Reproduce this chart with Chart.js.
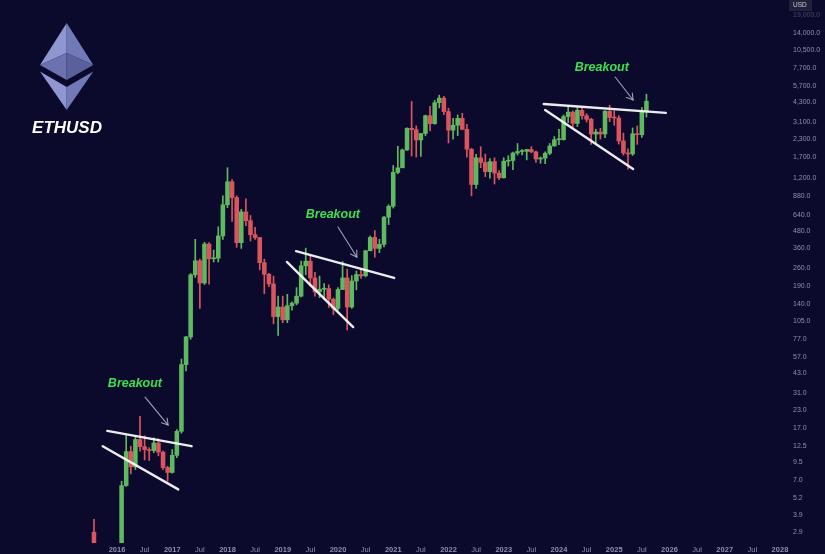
<!DOCTYPE html>
<html>
<head>
<meta charset="utf-8">
<script src="https://cdn.jsdelivr.net/npm/chart.js@4.4.1/dist/chart.umd.min.js"></script>
<style>
  html, body { margin: 0; padding: 0; background: #0b0a2c; overflow: hidden; }
  canvas { display: block; }
</style>
</head>
<body>
<canvas id="chart" width="825" height="554"></canvas>
<script>
// ETH/USD monthly candles, first entry = August 2015.
// Months between Sep 2015 and Jan 2016 trade below the visible price range.
const firstMonth = '2015-08';

const open = [
  2.90, null, null, null, null,
  null, 2.20, 6.40, 11.4, 8.8, 14.0, 12.4, 11.8, 11.6, 13.2, 11.3, 8.7,
  8.0, 10.7, 16.1, 50.0, 80.0, 230, 292, 200, 388, 302, 305, 445,
  756, 1118, 854, 397, 670, 577, 455, 433, 283, 232, 197, 113,
  133, 107, 136, 142, 160, 268, 290, 218, 172, 180, 182, 152,
  130, 179, 218, 133, 207, 231, 226, 346, 434, 360, 386, 612,
  737, 1312, 1416, 1918, 2773, 2707, 2274, 2536, 3434, 3001, 4288, 4631,
  3683, 2688, 2920, 3282, 2727, 1942, 1067, 1679, 1553, 1328, 1572, 1295,
  1196, 1585, 1605, 1822, 1870, 1874, 1934, 1857, 1645, 1671, 1815, 2052,
  2282, 2283, 3384, 3647, 3014, 3763, 3433, 3232, 2513, 2603, 2518, 3707,
  3332, 3300, 2237, 1822, 1793, 2528, 2486, 3697
];
const high = [
  3.60, null, null, null, null,
  null, 6.9, 15.0, 12.5, 14.6, 20.8, 14.9, 12.2, 14.4, 14.2, 11.5, 8.9,
  11.8, 16.6, 55, 81, 235, 420, 300, 400, 398, 350, 520, 880,
  1420, 1160, 880, 700, 838, 630, 515, 435, 300, 236, 225, 160,
  160, 165, 145, 185, 290, 362, 322, 240, 225, 198, 194, 155,
  185, 288, 253, 227, 245, 256, 349, 445, 488, 420, 622, 755,
  1475, 2040, 1950, 2800, 4380, 2890, 2550, 3470, 4030, 4460, 4870, 4780,
  3900, 3280, 3480, 3580, 2960, 1970, 1780, 2030, 1790, 1660, 1680, 1350,
  1680, 1740, 1850, 2140, 1930, 1930, 2030, 1880, 1700, 1860, 2140, 2410,
  2720, 3480, 4090, 3730, 3980, 3890, 3560, 3290, 2730, 2770, 3740, 4107,
  3740, 3440, 2550, 1960, 2790, 2880, 3940, 4950
];
const low = [
  0.42, null, null, null, null,
  null, 2.1, 6.3, 7.8, 8.4, 11.5, 9.9, 9.8, 11.2, 10.6, 8.4, 6.9,
  7.9, 10.3, 15.6, 45, 77, 220, 130, 195, 196, 286, 286, 420,
  720, 570, 367, 360, 530, 408, 420, 250, 167, 188, 100, 82,
  102, 102, 126, 138, 158, 230, 190, 160, 156, 152, 132, 117,
  126, 179, 90, 130, 178, 216, 222, 346, 310, 335, 370, 540,
  715, 1280, 1540, 1900, 1730, 1700, 1720, 2440, 2650, 2970, 3920, 3500,
  2160, 2300, 2450, 2700, 1700, 880, 1000, 1420, 1220, 1190, 1075, 1160,
  1190, 1460, 1370, 1760, 1760, 1620, 1830, 1550, 1530, 1520, 1770, 2050,
  2100, 2270, 3050, 2810, 2860, 3240, 3080, 2110, 2150, 2310, 2360, 3100,
  2920, 2120, 1760, 1385, 1750, 2110, 2370, 3355
];
const close = [
  1.35, null, null, null, null,
  null, 6.40, 11.4, 8.8, 14.0, 12.4, 11.8, 11.6, 13.2, 11.3, 8.7, 8.0,
  10.7, 16.1, 50.0, 80.0, 230, 292, 200, 388, 302, 305, 445, 756,
  1118, 854, 397, 670, 577, 455, 433, 283, 232, 197, 113, 133,
  107, 136, 142, 160, 268, 290, 218, 172, 180, 182, 152, 130,
  179, 218, 133, 207, 231, 226, 346, 434, 360, 386, 612, 737,
  1312, 1416, 1918, 2773, 2707, 2274, 2536, 3434, 3001, 4288, 4631, 3683,
  2688, 2920, 3282, 2727, 1942, 1067, 1679, 1553, 1328, 1572, 1295, 1196,
  1585, 1605, 1822, 1870, 1874, 1934, 1857, 1645, 1671, 1815, 2052, 2282,
  2283, 3384, 3647, 3014, 3763, 3433, 3232, 2513, 2603, 2518, 3707, 3332,
  3300, 2237, 1822, 1793, 2528, 2486, 3697, 4391
];

// Price axis labels (USD)
const priceTicks = [19000, 14000, 10500, 7700, 5700, 4300, 3100, 2300, 1700, 1200,
  880, 640, 480, 360, 260, 190, 140, 105, 77, 57, 43, 31, 23, 17, 12.5, 9.5, 7.0, 5.2, 3.9, 2.9];

// Time axis: months counted from January 2016, a label every six months
const timeTicks = [0, 6, 12, 18, 24, 30, 36, 42, 48, 54, 60, 66, 72, 78, 84, 90, 96, 102, 108, 114, 120, 126, 132, 138, 144];
const baseYear = 2016;

// Trendlines of the three wedges, as [month, price] pairs
const trendLines = [
  [[-2.1, 16.2], [16.2, 12.5]],
  [[-3.1, 12.5], [13.3, 6.0]],
  [[38.9, 344], [60.2, 218]],
  [[36.9, 286], [51.3, 94.6]],
  [[92.7, 4190], [119.2, 3600]],
  [[93.0, 3785], [112.1, 1387]]
];
// "Breakout" callouts: label anchor and arrow from -> to
const callouts = [
  { label: [3.9, 36],   from: [6.1, 28.8],   to: [11.1, 17.9] },
  { label: [46.9, 635], from: [48.0, 518],   to: [52.1, 311] },
  { label: [105.3, 7850], from: [108.2, 6630], to: [112.1, 4485] }
];

const GREEN = '#5fb961';
const RED = '#da555f';
const TEXT = '#8e91aa';
const FONT = '"Liberation Sans", Arial, sans-serif';

const [startY, startM] = firstMonth.split('-').map(Number);
const monthOffset = (startY - baseYear) * 12 + (startM - 1);

const bodies = [];
const wicks = [];
open.forEach((o, i) => {
  if (o == null) return;
  const x = monthOffset + i;
  const up = close[i] >= o;
  bodies.push({ x, y: [o, close[i]], up });
  wicks.push({ x, y: [low[i], high[i]], up });
});

const candleColor = ctx => (ctx.raw && ctx.raw.up ? GREEN : RED);

const fmtPrice = v => Number(v).toLocaleString('en-US', { minimumFractionDigits: 1, maximumFractionDigits: 1 });

const overlay = {
  id: 'overlay',
  beforeDraw(chart) {
    const c = chart.ctx;
    c.save();
    c.fillStyle = '#0b0a2c';
    c.fillRect(0, 0, chart.width, chart.height);
    c.restore();
  },
  afterDatasetsDraw(chart) {
    const c = chart.ctx;
    const xs = chart.scales.x, ys = chart.scales.y;
    const P = p => [xs.getPixelForValue(p[0]), ys.getPixelForValue(p[1])];
    c.save();
    // wedge boundaries
    c.strokeStyle = 'rgba(255,255,255,0.92)';
    c.lineWidth = 2.4;
    c.lineCap = 'round';
    trendLines.forEach(([a, b]) => {
      const [x1, y1] = P(a), [x2, y2] = P(b);
      c.beginPath(); c.moveTo(x1, y1); c.lineTo(x2, y2); c.stroke();
    });
    // breakout arrows and labels
    callouts.forEach(co => {
      const [x1, y1] = P(co.from), [x2, y2] = P(co.to);
      c.strokeStyle = 'rgba(185,188,205,0.85)';
      c.lineWidth = 1.1;
      c.beginPath(); c.moveTo(x1, y1); c.lineTo(x2, y2); c.stroke();
      const ang = Math.atan2(y2 - y1, x2 - x1);
      const hl = 7;
      c.beginPath();
      c.moveTo(x2 - hl * Math.cos(ang - 0.55), y2 - hl * Math.sin(ang - 0.55));
      c.lineTo(x2, y2);
      c.lineTo(x2 - hl * Math.cos(ang + 0.55), y2 - hl * Math.sin(ang + 0.55));
      c.stroke();
      const [lx, ly] = P(co.label);
      c.fillStyle = '#3ee04e';
      c.font = 'italic bold 12.5px ' + FONT;
      c.textAlign = 'center';
      c.textBaseline = 'middle';
      c.fillText('Breakout', lx, ly);
    });
    c.restore();
  },
  afterDraw(chart) {
    const c = chart.ctx;
    c.save();
    // Ethereum logo
    const poly = (pts, col) => {
      c.fillStyle = col;
      c.beginPath();
      pts.forEach(([x, y], i) => (i ? c.lineTo(x, y) : c.moveTo(x, y)));
      c.closePath(); c.fill();
    };
    poly([[66.7, 23], [40, 65], [66.7, 53]], '#8f96d2');
    poly([[66.7, 23], [93.3, 65], [66.7, 53]], '#7279b8');
    poly([[40, 65], [66.7, 53], [66.7, 80]], '#6c72b0');
    poly([[93.3, 65], [66.7, 53], [66.7, 80]], '#5a609c');
    poly([[40, 71.5], [66.7, 87], [66.7, 110]], '#8f96d2');
    poly([[93.3, 71.5], [66.7, 87], [66.7, 110]], '#7279b8');
    c.fillStyle = '#ffffff';
    c.font = 'italic bold 17px ' + FONT;
    c.textAlign = 'center';
    c.textBaseline = 'alphabetic';
    c.fillText('ETHUSD', 67, 133);
    // currency tag above the price scale
    c.fillStyle = '#22213a';
    c.fillRect(789, 0, 23, 11);
    c.fillStyle = '#c9cad8';
    c.font = '6.5px ' + FONT;
    c.textAlign = 'left';
    c.textBaseline = 'middle';
    c.fillText('USD', 793, 5.5);
    c.restore();
  }
};

new Chart(document.getElementById('chart'), {
  type: 'bar',
  data: {
    datasets: [
      {
        label: 'wick',
        data: wicks,
        backgroundColor: candleColor,
        barThickness: 1,
        grouped: false,
        clip: 0,
        order: 2
      },
      {
        label: 'body',
        data: bodies,
        backgroundColor: candleColor,
        barThickness: 3.9,
        minBarLength: 1,
        grouped: false,
        clip: 0,
        order: 1
      }
    ]
  },
  options: {
    responsive: false,
    animation: false,
    devicePixelRatio: 1,
    layout: { padding: 0 },
    plugins: { legend: { display: false }, tooltip: { enabled: false } },
    scales: {
      x: {
        type: 'linear',
        min: -25.41,
        max: 145.53,
        offset: false,
        grid: { display: false, drawTicks: false },
        border: { display: false },
        afterBuildTicks: s => { s.ticks = timeTicks.map(v => ({ value: v })); },
        afterFit: s => { s.height = 11; s.paddingLeft = 0; s.paddingRight = 0; },
        ticks: {
          autoSkip: false,
          maxRotation: 0,
          padding: 2,
          color: TEXT,
          font: ctx => ({
            size: 7.5,
            family: FONT,
            weight: ctx.tick && ctx.tick.value % 12 === 0 ? 'bold' : 'normal'
          }),
          callback: v => (v % 12 === 0 ? String(baseYear + v / 12) : 'Jul')
        }
      },
      y: {
        type: 'logarithmic',
        position: 'right',
        min: 2.412,
        max: 24530,
        grid: { display: false, drawTicks: false },
        border: { display: false },
        afterBuildTicks: s => { s.ticks = priceTicks.map(v => ({ value: v })); },
        afterFit: s => { s.width = 38; s.paddingTop = 0; s.paddingBottom = 0; },
        ticks: {
          autoSkip: false,
          padding: 6,
          color: ctx => (ctx.index === 0 ? 'rgba(142,145,170,0.45)' : TEXT),
          font: { size: 7, family: FONT },
          callback: v => fmtPrice(v)
        }
      }
    }
  },
  plugins: [overlay]
});
</script>
</body>
</html>
